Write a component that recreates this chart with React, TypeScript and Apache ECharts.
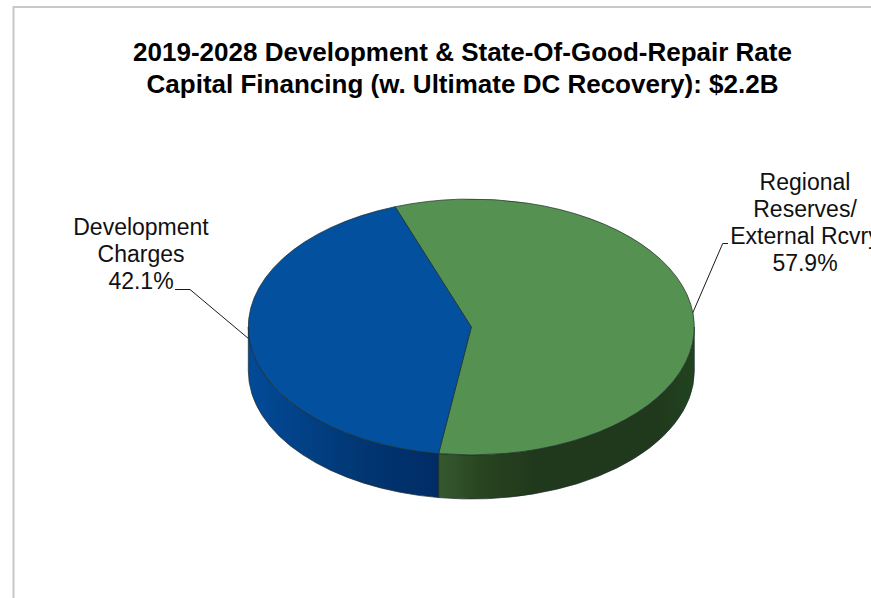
import React, { useEffect, useRef } from "react";
import * as echarts from "echarts";

const titleLines = [
  "2019-2028 Development & State-Of-Good-Repair Rate",
  "Capital Financing (w. Ultimate DC Recovery): $2.2B",
];
const categories = ["Regional\nReserves/\nExternal Rcvry", "Development\nCharges"];
const shares = [57.9, 42.1];
const topColors = ["#559150", "#03509F"];
const startAngle = 340;

const CX = 471.3, CY = 327, RX = 223, RY = 128, DEPTH = 44;
const FONT = "'Liberation Sans', Arial, sans-serif";

const pt = (deg: number, dy = 0): [number, number] => {
  const r = (deg * Math.PI) / 180;
  return [CX + RX * Math.sin(r), CY - RY * Math.cos(r) + dy];
};
const arc = (a: number, b: number, dy: number, sweep: number) => {
  const steps = Math.ceil(Math.abs(b - a) / 90);
  let d = "";
  for (let i = 1; i <= steps; i++) {
    const p = pt(a + ((b - a) * i) / steps, dy);
    d += `A${RX} ${RY} 0 0 ${sweep} ${p[0].toFixed(2)} ${p[1].toFixed(2)}`;
  }
  return d;
};
const topPath = (a: number, b: number) => {
  const s = pt(a);
  return `M${CX} ${CY}L${s[0].toFixed(2)} ${s[1].toFixed(2)}${arc(a, b, 0, 1)}Z`;
};
const sidePath = (a: number, b: number) => {
  const s = pt(a), e = pt(b, DEPTH);
  return `M${s[0].toFixed(2)} ${s[1].toFixed(2)}${arc(a, b, 0, 1)}L${e[0].toFixed(2)} ${e[1].toFixed(2)}${arc(b, a, DEPTH, 0)}Z`;
};
const grad = (x1: number, x2: number, stops: [number, string][]) =>
  new echarts.graphic.LinearGradient(
    x1, 0, x2, 0,
    stops.map(([offset, color]) => ({ offset, color })),
    true
  );

export default function App() {
  const ref = useRef<HTMLDivElement>(null);
  useEffect(() => {
    document.body.style.margin = "0";
    const chart = echarts.init(ref.current!, null, { renderer: "svg" });
    const total = shares.reduce((a, b) => a + b, 0);
    const renderItem = (params: any) => {
      const i = params.dataIndex;
      const before = shares.slice(0, i).reduce((a, b) => a + b, 0);
      const a = startAngle + (before / total) * 360;
      const b = a + (shares[i] / total) * 360;
      let side0: number, side1: number, fill: any;
      if (i === 0) {
        side0 = 360 + 90;
        side1 = b;
        fill = grad(439, 694, [
          [0, "#35592F"], [0.18, "#27431F"], [0.38, "#20391C"], [0.85, "#20391C"], [1, "#21431F"],
        ]);
      } else {
        side0 = a;
        side1 = 360 + 270;
        fill = grad(248, 439, [
          [0, "#024A98"], [0.35, "#023F82"], [0.7, "#01336E"], [1, "#002C66"],
        ]);
      }
      const stroke = { stroke: "#1C2B2B", lineWidth: 0.7, lineJoin: "round" };
      return {
        type: "group",
        children: [
          {
            type: "path",
            shape: { pathData: sidePath(Math.min(side0, side1), Math.max(side0, side1)) },
            style: { fill, ...stroke },
          },
          {
            type: "path",
            shape: { pathData: topPath(a, b) },
            style: { fill: topColors[i], ...stroke },
          },
        ],
      };
    };
    const labelStyle = { fontFamily: FONT, fontSize: 23, lineHeight: 27, fill: "#111", align: "center", verticalAlign: "middle" };
    const titleStyle = { fontFamily: FONT, fontSize: 26, fontWeight: "bold", fill: "#000", align: "center", verticalAlign: "middle" };
    chart.setOption({
      animation: false,
      backgroundColor: "#fff",
      series: [
        {
          type: "custom",
          coordinateSystem: "none",
          silent: true,
          clip: false,
          data: shares,
          renderItem,
        },
      ],
      graphic: [
        { type: "polyline", silent: true, shape: { points: [[13.5, 598], [13.5, 7], [871, 7]] }, style: { fill: "none", stroke: "#C8C8C8", lineWidth: 2 } },
        { type: "text", silent: true, x: 462.5, y: 52, style: { text: titleLines[0], ...titleStyle } },
        { type: "text", silent: true, x: 462.5, y: 84, style: { text: titleLines[1], ...titleStyle } },
        { type: "text", silent: true, x: 141, y: 254, style: { text: `${categories[1]}\n${shares[1].toFixed(1)}%`, ...labelStyle } },
        { type: "text", silent: true, x: 805, y: 222.5, style: { text: `${categories[0]}\n${shares[0].toFixed(1)}%`, ...labelStyle } },
        { type: "polyline", silent: true, shape: { points: [[175, 289.5], [190, 289.5], [249, 339]] }, style: { fill: "none", stroke: "#000", lineWidth: 0.9 } },
        { type: "polyline", silent: true, shape: { points: [[692.7, 313], [722.7, 243.5], [728, 243.5]] }, style: { fill: "none", stroke: "#000", lineWidth: 0.9 } },
      ],
    });
    return () => chart.dispose();
  }, []);
  return <div ref={ref} style={{ width: 871, height: 598 }} />;
}
